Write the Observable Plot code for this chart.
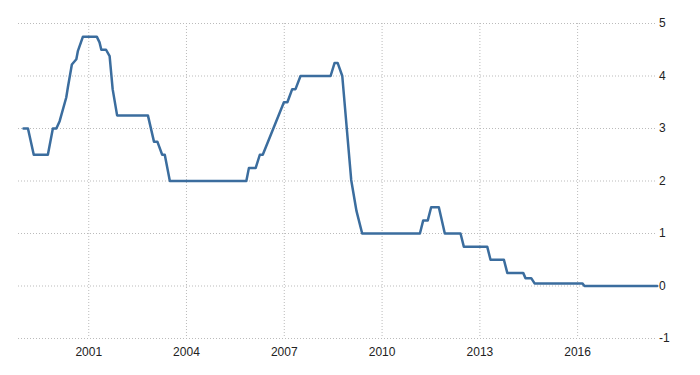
<!DOCTYPE html>
<html>
<head>
<meta charset="utf-8">
<script src="https://cdn.jsdelivr.net/npm/d3@7"></script>
<script src="https://cdn.jsdelivr.net/npm/@observablehq/plot@0.6"></script>
<style>
  html, body { margin: 0; padding: 0; background: #fff; }
  #chart { width: 700px; height: 375px; }
</style>
</head>
<body>
<div id="chart"></div>
<script>
// Vertices of the rate line (date, percent)
const dates = [
  "1999-01-01","1999-02-20","1999-04-26","1999-10-01","1999-11-26","2000-01-04","2000-02-10","2000-04-24",
  "2000-05-12","2000-06-26","2000-08-15","2000-09-02","2000-10-28","2001-04-01","2001-05-02","2001-05-22",
  "2001-07-14","2001-08-23","2001-09-26","2001-11-15","2002-10-26","2003-01-02","2003-02-09","2003-04-04",
  "2003-05-03","2003-06-29","2005-11-02","2005-12-01","2006-02-15","2006-04-02","2006-05-05","2006-12-28",
  "2007-02-05","2007-03-31","2007-05-07","2007-07-02","2008-06-03","2008-07-18","2008-08-21","2008-10-12",
  "2009-01-20","2009-03-20","2009-05-23","2011-03-01","2011-04-07","2011-05-28","2011-07-05","2011-09-29",
  "2011-12-05","2012-05-29","2012-07-05","2013-03-24","2013-04-30","2013-09-27","2013-11-04","2014-05-01",
  "2014-05-27","2014-07-30","2014-09-06","2016-02-23","2016-03-18","2018-06-11"
];
const rates = [
  3.00, 3.00, 2.50, 2.50, 3.00, 3.00, 3.14, 3.59,
  3.78, 4.22, 4.32, 4.48, 4.75, 4.75, 4.64, 4.50,
  4.50, 4.38, 3.75, 3.25, 3.25, 2.75, 2.75, 2.50,
  2.50, 2.00, 2.00, 2.25, 2.25, 2.50, 2.50, 3.50,
  3.50, 3.75, 3.75, 4.00, 4.00, 4.25, 4.25, 4.00,
  2.02, 1.43, 1.00, 1.00, 1.25, 1.25, 1.50, 1.50,
  1.00, 1.00, 0.75, 0.75, 0.50, 0.50, 0.25, 0.25,
  0.15, 0.15, 0.05, 0.05, 0.00, 0.00
];
const xTickYears = ["2001","2004","2007","2010","2013","2016"];
const yTicks = [-1, 0, 1, 2, 3, 4, 5];

const data = dates.map((d, i) => ({ date: new Date(d + "T00:00:00Z"), value: rates[i] }));
const xTicks = xTickYears.map(y => new Date(y + "-01-01T00:00:00Z"));

const chart = Plot.plot({
  width: 700,
  height: 375,
  marginLeft: 23,
  marginRight: 41.5,
  marginTop: 23,
  marginBottom: 37,
  style: {
    fontFamily: "'Liberation Sans Narrow', 'Arial Narrow', 'Liberation Sans', sans-serif",
    fontSize: "12px",
    color: "#333",
    background: "#fff"
  },
  x: { type: "utc", domain: [new Date("1999-01-01T00:00:00Z"), new Date("2018-07-01T00:00:00Z")] },
  y: { domain: [-1, 5] },
  marks: [
    Plot.gridY(yTicks, { stroke: "#bbb", strokeOpacity: 1, strokeDasharray: "1,2", insetLeft: -5, insetRight: 3 }),
    Plot.gridX(xTicks, { stroke: "#bbb", strokeOpacity: 1, strokeDasharray: "1,2" }),
    Plot.axisY(yTicks, { anchor: "right", tickSize: 0, tickPadding: 0, textAnchor: "start", label: null, tickFormat: d => `${d}`, fill: "#222" }),
    Plot.axisX(xTicks, { anchor: "bottom", tickSize: 0, tickPadding: 9, label: null, tickFormat: d3.utcFormat("%Y"), fill: "#222" }),
    Plot.line(data, { x: "date", y: "value", stroke: "#3b6d9e", strokeWidth: 2.5 })
  ]
});
document.getElementById("chart").appendChild(chart);
</script>
</body>
</html>
